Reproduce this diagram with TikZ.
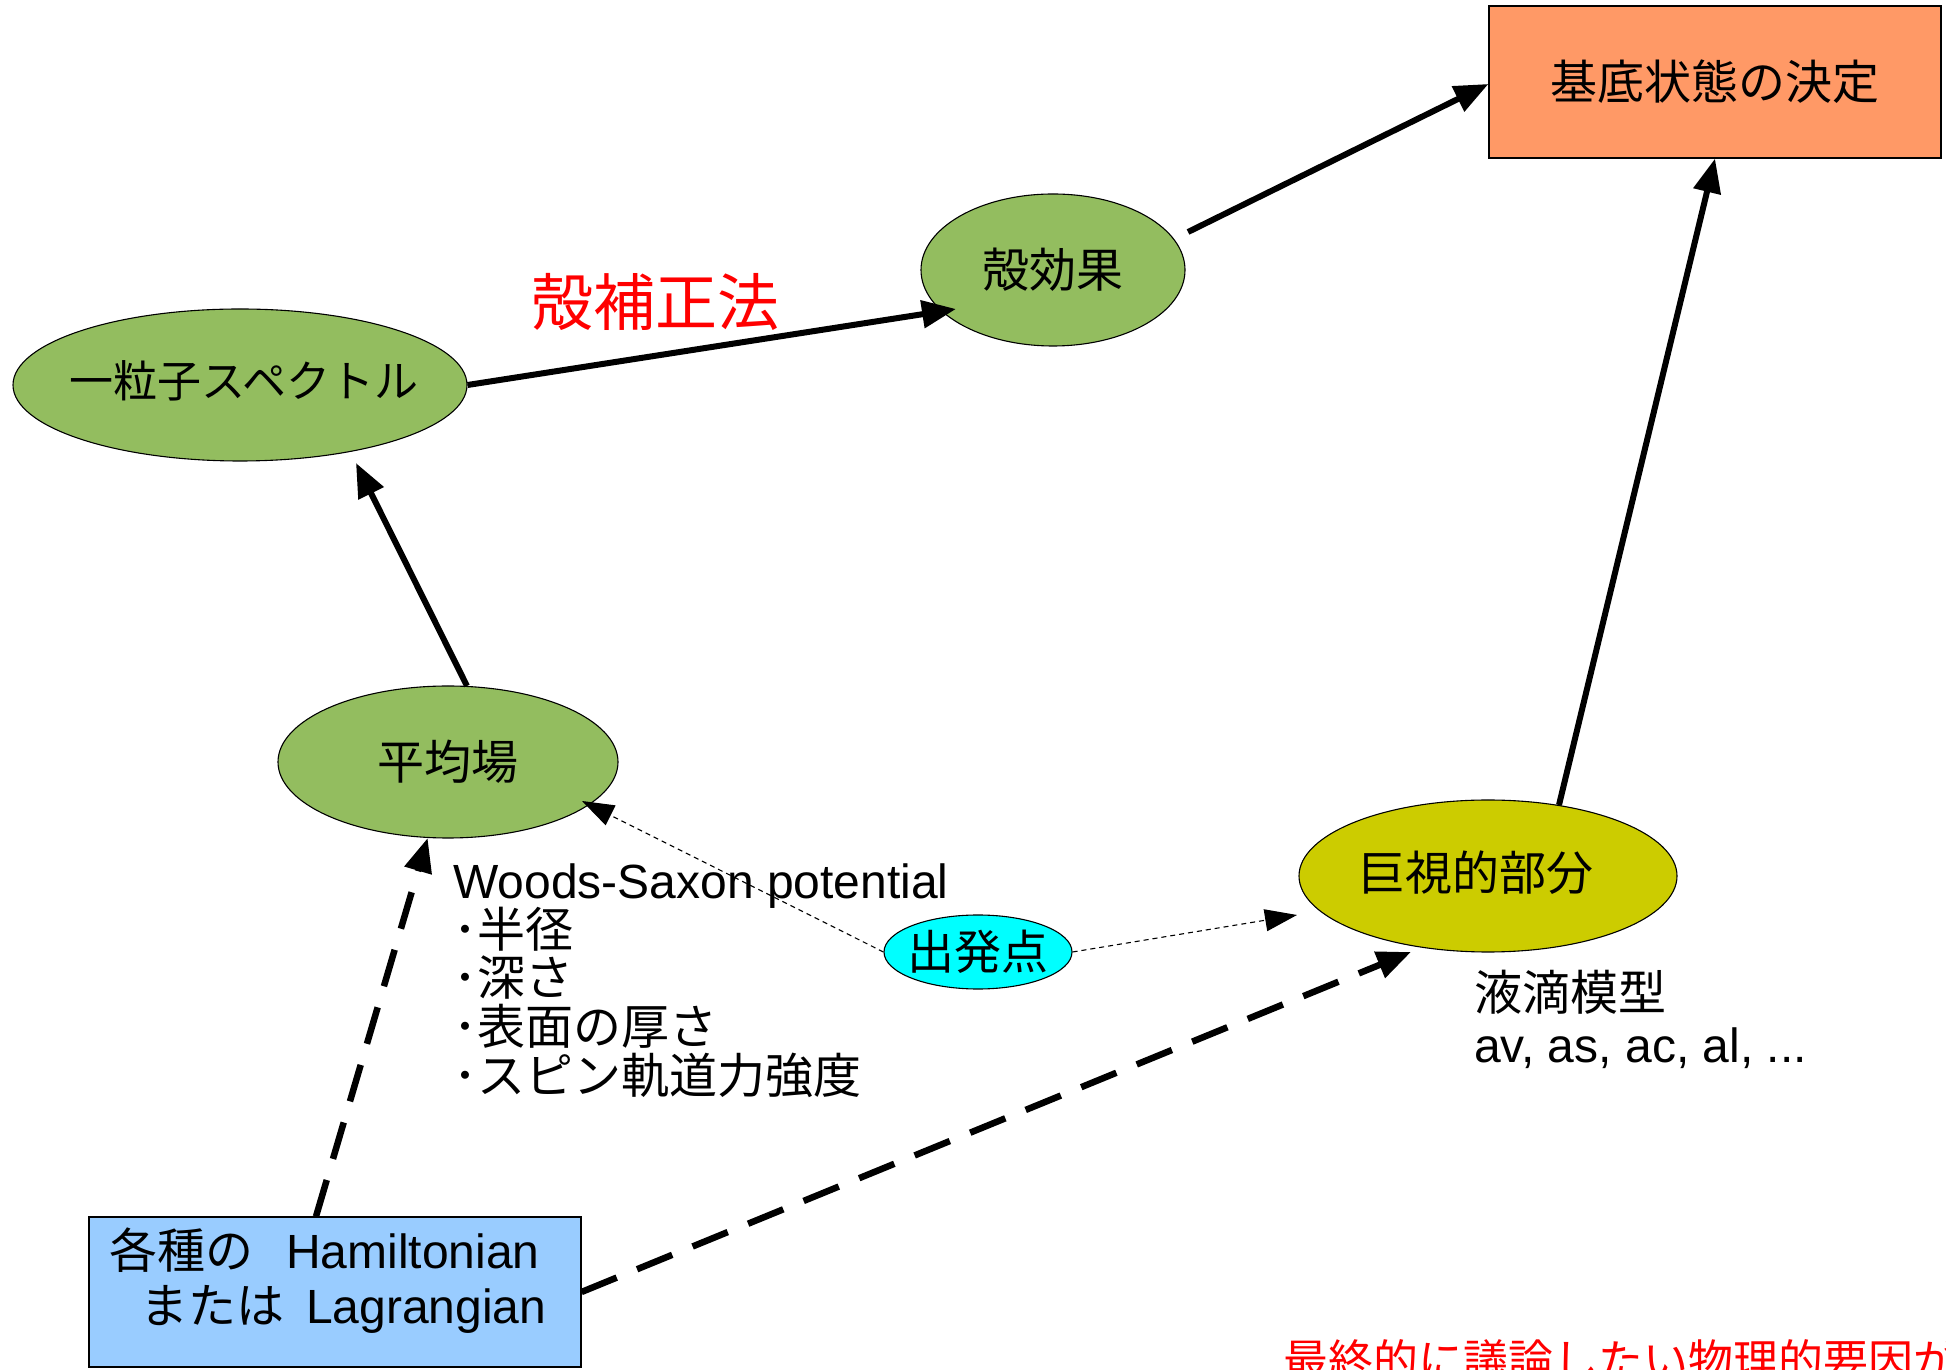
\documentclass[tikz,border=0pt]{standalone}
\usepackage{fontspec}
\setmainfont{Liberation Sans}
\newfontfamily\jp{Noto Sans CJK JP}
\usetikzlibrary{arrows.meta,shapes.geometric}
\definecolor{ellgreen}{RGB}{147,189,95}
\definecolor{ellolive}{RGB}{204,204,0}
\definecolor{ellcyan}{RGB}{0,255,255}
\definecolor{boxblue}{RGB}{153,204,255}
\definecolor{boxorange}{RGB}{255,153,102}
\definecolor{txtred}{RGB}{255,0,0}
\begin{document}
\begin{tikzpicture}[x=1pt,y=1pt,
  ell/.style={ellipse,draw=black,line width=1.1pt,inner sep=0pt},
  lbl/.style={font=\jp\fontsize{47}{50}\selectfont},
  txt/.style={inner sep=0pt,anchor=base west,font=\fontsize{48}{50}\selectfont},
  rbox/.style={rectangle,draw=black,line width=1.1pt,inner sep=0pt},
  solidarrow/.style={line width=6pt,-{Triangle[length=34pt,width=27pt]}},
  dasharrow/.style={line width=6.5pt,dash pattern=on 38pt off 22pt,-{Triangle[length=34pt,width=27pt]}},
  dotarrow/.style={line width=1.1pt,dash pattern=on 5pt off 4pt,-{Triangle[length=32pt,width=22pt]}}]
\useasboundingbox (0,0) rectangle (1946,1369);
\fill[white] (0,0) rectangle (1946,1369);

% nodes
\node[rbox,fill=boxorange,minimum width=452pt,minimum height=152pt,
      font=\jp\fontsize{47}{50}\selectfont] (goal) at (1715,1287) {基底状態の決定};
\node[ell,fill=ellgreen,minimum width=264pt,minimum height=152pt,
      label={[lbl]center:殻効果}] (shell) at (1053,1099) {};
\node[ell,fill=ellgreen,minimum width=454pt,minimum height=152pt,
      label={[lbl,font=\jp\fontsize{44}{50}\selectfont,xshift=4pt,yshift=4pt]center:一粒子スペクトル}] (sp) at (240,984) {};
\node[ell,fill=ellgreen,minimum width=340pt,minimum height=152pt,
      label={[lbl]center:平均場}] (mf) at (448,607) {};
\node[ell,fill=ellolive,minimum width=378pt,minimum height=152pt,
      label={[lbl,xshift=-12pt,yshift=3pt]center:巨視的部分}] (macro) at (1488,493) {};
\node[ell,fill=ellcyan,minimum width=188pt,minimum height=74pt,
      label={[lbl]center:出発点}] (start) at (978,417) {};
\node[rbox,fill=boxblue,minimum width=492pt,minimum height=150pt] (ham) at (335,77) {};

% texts
\node[txt] (hamA) at (109,101) {{\jp 各種の}\hspace{33pt}Hamiltonian};
\node[txt] (hamB) at (140,46) {{\jp または}\hspace{22pt}Lagrangian};
\node[inner sep=0pt,text=txtred,font=\jp\fontsize{62}{66}\selectfont] (corr) at (655,1067) {殻補正法};
\node[txt] (wsA) at (453,470) {Woods-Saxon potential};
\node[txt] (wsB) at (453,421.5) {\jp ･半径};
\node[txt] (wsC) at (453,373) {\jp ･深さ};
\node[txt] (wsD) at (453,324.5) {\jp ･表面の厚さ};
\node[txt] (wsE) at (453,276) {\jp ･スピン軌道力強度};
\node[txt] (ldA) at (1474,359) {\jp 液滴模型};
\node[txt] (ldB) at (1474,307) {av, as, ac, al, ...};
\node[txt,text=txtred,font=\jp\fontsize{45}{50}\selectfont] (final) at (1283,-8) {最終的に議論したい物理的要因が};

% connectors
\draw[solidarrow] (sp.east) -- ([shift={(-97pt,-39pt)}]shell.center);
\draw[solidarrow] ([shift={(135pt,38pt)}]shell.center) -- ([yshift=-2pt]goal.west);
\draw[solidarrow] (mf.76) -- ([shift={(116pt,-78pt)}]sp.center);
\draw[solidarrow] (macro.45) -- (goal.south);
\draw[dasharrow] ([xshift=-19pt]ham.north) -- (mf.255);
\draw[dasharrow] (ham.east) -- ([shift={(-77pt,-76pt)}]macro.center);
\draw[dotarrow] (start.west) -- ([shift={(134pt,-39pt)}]mf.center);
\draw[dotarrow] (start.east) -- ([shift={(-191pt,-39pt)}]macro.center);
\end{tikzpicture}
\end{document}
